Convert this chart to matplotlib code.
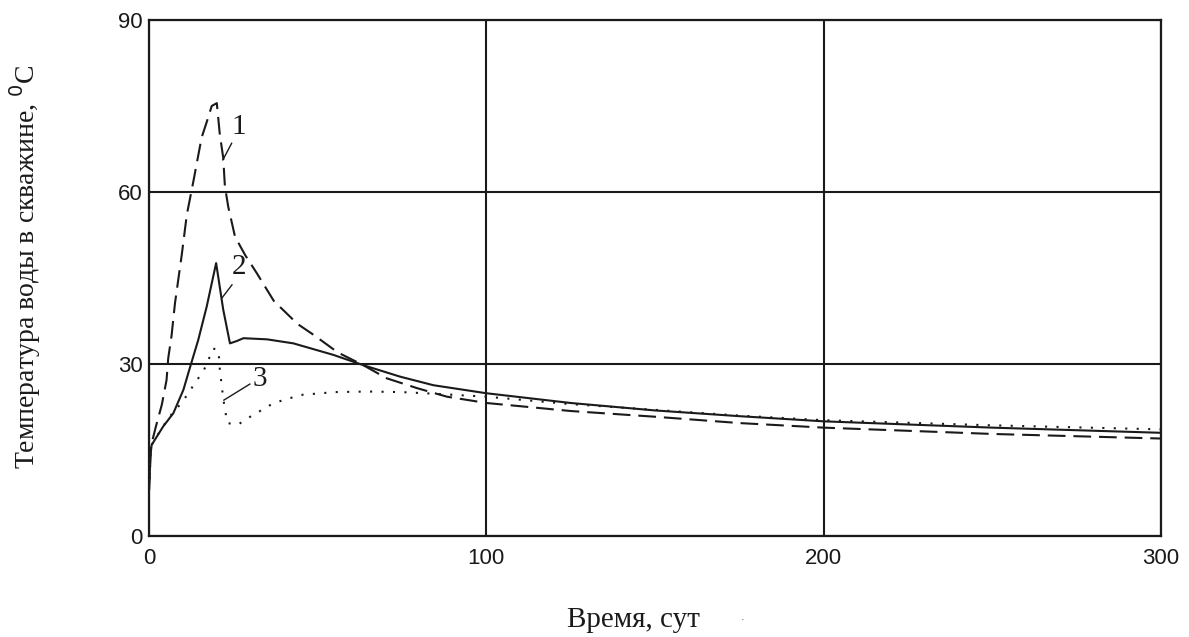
import matplotlib
matplotlib.use("Agg")
import matplotlib.pyplot as plt

# Curve 1 (dashed)
t1 = [0, 0.5, 2, 3.8, 5.2, 5.7, 6.7, 7.7, 9.7, 11.2, 13.2, 15.6, 17, 18.6, 20.1, 21, 22, 22.5,
      23.5, 25.5, 28.5, 32, 37, 44, 49, 56, 63.5, 70.5, 79.4, 88.3, 100, 125, 150, 175, 200, 250, 300]
y1 = [8, 15.5, 19, 22.9, 27.2, 31, 35, 40.6, 49, 56, 62, 69.5, 72, 75, 75.5, 70, 66, 61,
      57.4, 52.2, 49, 45.8, 41, 37, 35, 32, 29.8, 27.5, 25.8, 24.3, 23.2, 21.8, 20.8, 19.7, 18.9, 17.8, 17.0]

# Curve 2 (solid)
t2 = [0, 0.5, 0.8, 4.2, 7.2, 10.2, 12.2, 14.6, 17.1, 19.9, 22, 24, 26, 28, 35, 42.8, 54.6,
      63.5, 74.4, 84.3, 100, 125, 150, 175, 200, 250, 300]
y2 = [8, 14.5, 15.9, 19.1, 21.4, 25.5, 29.5, 34.2, 40, 47.6, 39.5, 33.6, 34, 34.5, 34.3, 33.6, 31.6,
      29.8, 27.8, 26.3, 24.9, 23.2, 21.9, 20.9, 20.0, 18.9, 18.0]

# Curve 3 (dotted)
t3 = [0, 0.5, 0.8, 4, 7, 9.2, 11.7, 13.6, 16.1, 17.6, 19, 20.6, 21, 22, 23.2, 26.3, 30, 37, 45,
      55, 65, 75, 85, 100, 125, 150, 175, 200, 250, 300]
y3 = [8, 14.5, 15.9, 19, 21.5, 22.9, 24.9, 26.7, 28.7, 30.7, 32.7, 32.4, 29, 24, 19.7, 19.4, 20.8, 23.2, 24.6,
      25.1, 25.2, 25.1, 24.8, 24.3, 23, 22, 21, 20.2, 19.3, 18.6]

x_ticks = [0, 100, 200, 300]
y_ticks = [0, 30, 60, 90]

curve_labels = ["1", "2", "3"]
label_text_pos = [(26.6, 71.3), (26.6, 46.9), (32.8, 27.3)]
leader_from = [(24.5, 68.5), (24.6, 43.8), (29.9, 26.5)]
leader_to = [(21.9, 65.6), (21.6, 41.5), (22.2, 23.7)]

W, H = 1189, 637
fig = plt.figure(figsize=(W / 100, H / 100), dpi=100)
ax = fig.add_axes([149 / W, (H - 536) / H, (1161 - 149) / W, (536 - 20) / H])

col = "#1a1a1a"
lw = 1.5
ax.plot(t1, y1, color=col, lw=lw, dashes=(8.5, 3.8))
ax.plot(t2, y2, color=col, lw=lw)
ax.plot(t3, y3, color=col, lw=lw, dashes=(1.0, 4.5))

ax.set_xlim(0, 300)
ax.set_ylim(0, 90)
ax.set_xticks(x_ticks)
ax.set_yticks(y_ticks)
ax.grid(True, color=col, lw=1.5)
ax.set_axisbelow(True)
for s in ax.spines.values():
    s.set_color(col)
    s.set_linewidth(1.6)

ax.tick_params(axis="both", length=0, labelcolor=col)
ax.tick_params(axis="x", pad=9)
ax.tick_params(axis="y", pad=4.5)
for lab in ax.get_xticklabels() + ax.get_yticklabels():
    lab.set_fontfamily("Liberation Sans")
    lab.set_fontsize(16)

serif = "Liberation Serif"
for lab, tp, lf, lt in zip(curve_labels, label_text_pos, leader_from, leader_to):
    ax.text(tp[0], tp[1], lab, family=serif, fontsize=21, ha="center", va="center", color=col)
    ax.plot([lf[0], lt[0]], [lf[1], lt[1]], color=col, lw=1.0)

fig.text(633 / W, 1 - 620 / H, "Время, сут", family=serif, fontsize=21, ha="center", va="center", color=col)
fig.text(743 / W, 1 - 620 / H, "·", family=serif, fontsize=8, ha="center", va="center", color="#777777")
fig.text(25 / W, 1 - 267 / H, "Температура воды в скважине, $^{0}$C", family=serif, fontsize=20,
         rotation=90, ha="center", va="center", color=col)

fig.savefig("out.png", dpi=100)
